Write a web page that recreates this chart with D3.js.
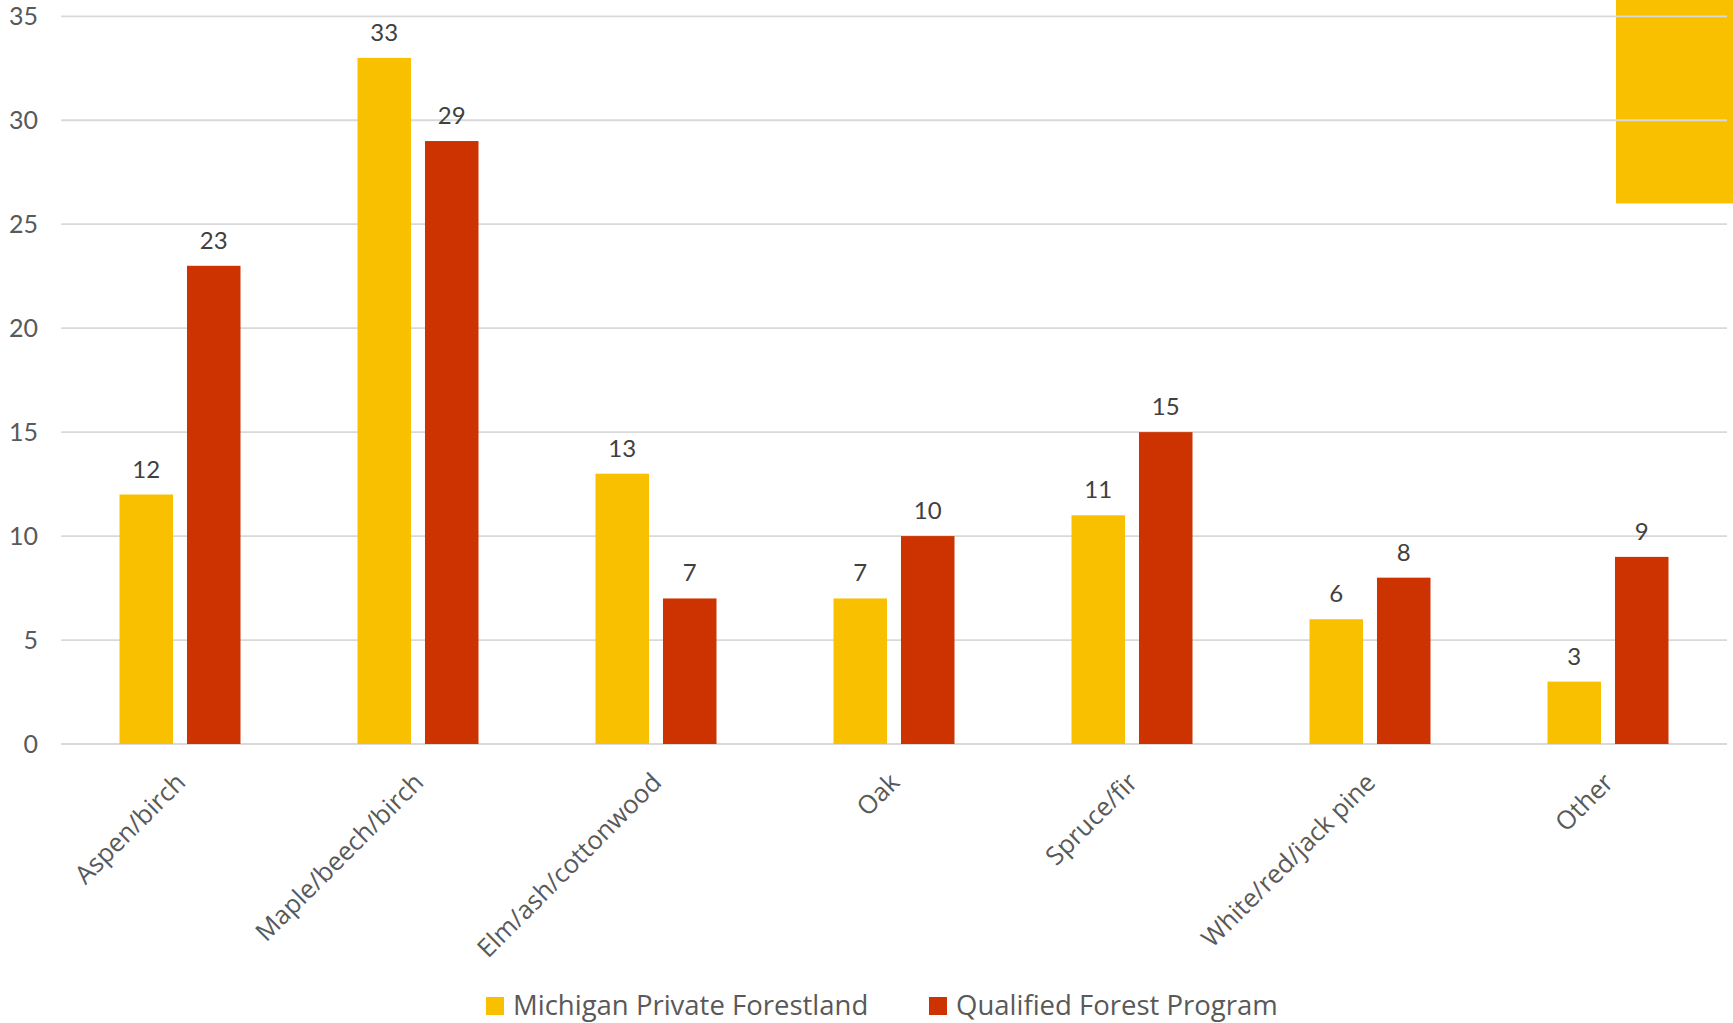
<!DOCTYPE html>
<html>
<head>
<meta charset="utf-8">
<script src="https://cdn.jsdelivr.net/npm/d3@7"></script>
<style>
  body { margin: 0; background: #fff; }
  svg { display: block; }
  .tick-text { font-family: Lato, "Open Sans", sans-serif; font-size: 25px; fill: #595959; }
  .bar-label { font-family: Lato, "Open Sans", sans-serif; font-size: 24px; fill: #404040; }
  .cat-text { font-family: "Open Sans", sans-serif; font-size: 25.5px; fill: #595959; }
  .legend-text { font-family: "Open Sans", sans-serif; font-size: 27.5px; fill: #595959; }
</style>
</head>
<body>
<div id="chart"></div>
<script>
const categories = ["Aspen/birch", "Maple/beech/birch", "Elm/ash/cottonwood", "Oak", "Spruce/fir", "White/red/jack pine", "Other"];
const seriesNames = ["Michigan Private Forestland", "Qualified Forest Program"];
const michiganValues = [12, 33, 13, 7, 11, 6, 3];
const qfpValues = [23, 29, 7, 10, 15, 8, 9];
const yTicks = [0, 5, 10, 15, 20, 25, 30, 35];
const colors = ["#F9C000", "#CC3300"];

const width = 1733, height = 1023;
const plotLeft = 61, plotRight = 1727, plotTop = 16.3, plotBottom = 744;

const svg = d3.select("#chart").append("svg")
    .attr("width", width)
    .attr("height", height);

const xScale = d3.scaleBand()
    .domain(categories)
    .range([plotLeft, plotRight]);

const xInner = d3.scaleBand()
    .domain(seriesNames)
    .range([58.5, 179.5])
    .paddingInner(0.207);

const yScale = d3.scaleLinear()
    .domain([0, 35])
    .range([plotBottom, plotTop]);

// stray yellow block in the top right corner of the original
svg.append("rect")
    .attr("x", 1616)
    .attr("y", 0)
    .attr("width", width - 1616)
    .attr("height", yScale(26))
    .attr("fill", colors[0]);

// gridlines
svg.selectAll("line.grid").data(yTicks).enter().append("line")
    .attr("class", "grid")
    .attr("x1", plotLeft)
    .attr("x2", plotRight)
    .attr("y1", d => yScale(d))
    .attr("y2", d => yScale(d))
    .attr("stroke", "#d9d9d9")
    .attr("stroke-width", 1.8);

// y tick labels
svg.selectAll("text.tick-text").data(yTicks).enter().append("text")
    .attr("class", "tick-text")
    .attr("x", 38)
    .attr("y", d => yScale(d))
    .attr("dy", "0.36em")
    .attr("text-anchor", "end")
    .text(d => d);

const rows = categories.map((c, i) => ({
    cat: c,
    vals: [
        { name: seriesNames[0], value: michiganValues[i] },
        { name: seriesNames[1], value: qfpValues[i] }
    ]
}));

const groups = svg.selectAll("g.cat").data(rows).enter().append("g")
    .attr("class", "cat")
    .attr("transform", d => "translate(" + xScale(d.cat) + ",0)");

groups.selectAll("rect").data(d => d.vals).enter().append("rect")
    .attr("x", d => xInner(d.name))
    .attr("width", xInner.bandwidth())
    .attr("y", d => yScale(d.value))
    .attr("height", d => yScale(0) - yScale(d.value))
    .attr("fill", (d, i) => colors[i]);

groups.selectAll("text").data(d => d.vals).enter().append("text")
    .attr("class", "bar-label")
    .attr("x", d => xInner(d.name) + xInner.bandwidth() / 2)
    .attr("y", d => yScale(d.value) - 17)
    .attr("text-anchor", "middle")
    .text(d => d.value);

// category labels, rotated
svg.selectAll("text.cat-text").data(categories).enter().append("text")
    .attr("class", "cat-text")
    .attr("text-anchor", "end")
    .attr("transform", d => {
        const cx = xScale(d) + xScale.bandwidth() / 2 + 7;
        return "translate(" + cx + ",784) rotate(-45)";
    })
    .text(d => d);

// legend
const legendX = [486, 929];
const legend = svg.selectAll("g.legend").data(seriesNames).enter().append("g")
    .attr("class", "legend")
    .attr("transform", (d, i) => "translate(" + legendX[i] + ",997)");

legend.append("rect")
    .attr("width", 18)
    .attr("height", 18)
    .attr("fill", (d, i) => colors[i]);

legend.append("text")
    .attr("class", "legend-text")
    .attr("x", 27)
    .attr("y", 18)
    .text(d => d);
</script>
</body>
</html>
